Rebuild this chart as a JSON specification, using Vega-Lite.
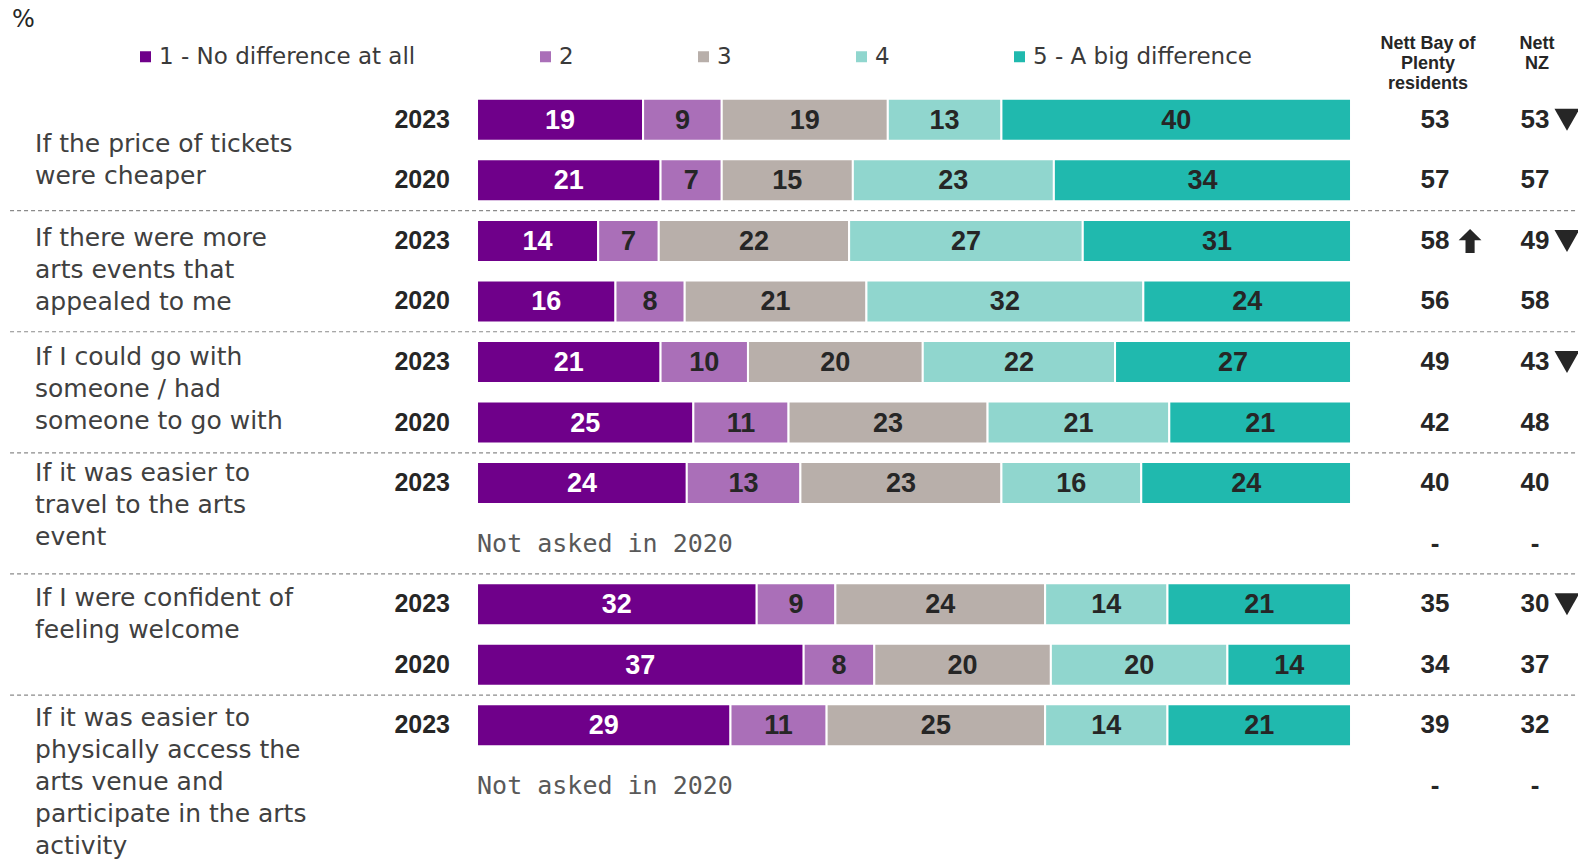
{
  "$schema": "https://vega.github.io/schema/vega-lite/v6.json",
  "width": 1578,
  "height": 859,
  "autosize": {"type": "none"},
  "padding": 0,
  "background": "white",
  "config": {"view": {"stroke": null}, "axis": {"disable": true}},
  "datasets": {
    "levels": [
      {"lvl": 1, "level": "1 - No difference at all"},
      {"lvl": 2, "level": "2"},
      {"lvl": 3, "level": "3"},
      {"lvl": 4, "level": "4"},
      {"lvl": 5, "level": "5 - A big difference"}
    ],
    "bars": [
      {"row": 0, "year": "2023", "lvl": 1, "value": 19}, {"row": 0, "year": "2023", "lvl": 2, "value": 9}, {"row": 0, "year": "2023", "lvl": 3, "value": 19}, {"row": 0, "year": "2023", "lvl": 4, "value": 13}, {"row": 0, "year": "2023", "lvl": 5, "value": 40},
      {"row": 1, "year": "2020", "lvl": 1, "value": 21}, {"row": 1, "year": "2020", "lvl": 2, "value": 7}, {"row": 1, "year": "2020", "lvl": 3, "value": 15}, {"row": 1, "year": "2020", "lvl": 4, "value": 23}, {"row": 1, "year": "2020", "lvl": 5, "value": 34},
      {"row": 2, "year": "2023", "lvl": 1, "value": 14}, {"row": 2, "year": "2023", "lvl": 2, "value": 7}, {"row": 2, "year": "2023", "lvl": 3, "value": 22}, {"row": 2, "year": "2023", "lvl": 4, "value": 27}, {"row": 2, "year": "2023", "lvl": 5, "value": 31},
      {"row": 3, "year": "2020", "lvl": 1, "value": 16}, {"row": 3, "year": "2020", "lvl": 2, "value": 8}, {"row": 3, "year": "2020", "lvl": 3, "value": 21}, {"row": 3, "year": "2020", "lvl": 4, "value": 32}, {"row": 3, "year": "2020", "lvl": 5, "value": 24},
      {"row": 4, "year": "2023", "lvl": 1, "value": 21}, {"row": 4, "year": "2023", "lvl": 2, "value": 10}, {"row": 4, "year": "2023", "lvl": 3, "value": 20}, {"row": 4, "year": "2023", "lvl": 4, "value": 22}, {"row": 4, "year": "2023", "lvl": 5, "value": 27},
      {"row": 5, "year": "2020", "lvl": 1, "value": 25}, {"row": 5, "year": "2020", "lvl": 2, "value": 11}, {"row": 5, "year": "2020", "lvl": 3, "value": 23}, {"row": 5, "year": "2020", "lvl": 4, "value": 21}, {"row": 5, "year": "2020", "lvl": 5, "value": 21},
      {"row": 6, "year": "2023", "lvl": 1, "value": 24}, {"row": 6, "year": "2023", "lvl": 2, "value": 13}, {"row": 6, "year": "2023", "lvl": 3, "value": 23}, {"row": 6, "year": "2023", "lvl": 4, "value": 16}, {"row": 6, "year": "2023", "lvl": 5, "value": 24},
      {"row": 8, "year": "2023", "lvl": 1, "value": 32}, {"row": 8, "year": "2023", "lvl": 2, "value": 9}, {"row": 8, "year": "2023", "lvl": 3, "value": 24}, {"row": 8, "year": "2023", "lvl": 4, "value": 14}, {"row": 8, "year": "2023", "lvl": 5, "value": 21},
      {"row": 9, "year": "2020", "lvl": 1, "value": 37}, {"row": 9, "year": "2020", "lvl": 2, "value": 8}, {"row": 9, "year": "2020", "lvl": 3, "value": 20}, {"row": 9, "year": "2020", "lvl": 4, "value": 20}, {"row": 9, "year": "2020", "lvl": 5, "value": 14},
      {"row": 10, "year": "2023", "lvl": 1, "value": 29}, {"row": 10, "year": "2023", "lvl": 2, "value": 11}, {"row": 10, "year": "2023", "lvl": 3, "value": 25}, {"row": 10, "year": "2023", "lvl": 4, "value": 14}, {"row": 10, "year": "2023", "lvl": 5, "value": 21}
    ],
    "rows": [
      {"row": 0, "year": "2023", "bop": "53", "nz": "53", "bopSig": "", "nzSig": "down", "asked": true},
      {"row": 1, "year": "2020", "bop": "57", "nz": "57", "bopSig": "", "nzSig": "", "asked": true},
      {"row": 2, "year": "2023", "bop": "58", "nz": "49", "bopSig": "up", "nzSig": "down", "asked": true},
      {"row": 3, "year": "2020", "bop": "56", "nz": "58", "bopSig": "", "nzSig": "", "asked": true},
      {"row": 4, "year": "2023", "bop": "49", "nz": "43", "bopSig": "", "nzSig": "down", "asked": true},
      {"row": 5, "year": "2020", "bop": "42", "nz": "48", "bopSig": "", "nzSig": "", "asked": true},
      {"row": 6, "year": "2023", "bop": "40", "nz": "40", "bopSig": "", "nzSig": "", "asked": true},
      {"row": 7, "year": "2020", "bop": "-", "nz": "-", "bopSig": "", "nzSig": "", "asked": false},
      {"row": 8, "year": "2023", "bop": "35", "nz": "30", "bopSig": "", "nzSig": "down", "asked": true},
      {"row": 9, "year": "2020", "bop": "34", "nz": "37", "bopSig": "", "nzSig": "", "asked": true},
      {"row": 10, "year": "2023", "bop": "39", "nz": "32", "bopSig": "", "nzSig": "", "asked": true},
      {"row": 11, "year": "2020", "bop": "-", "nz": "-", "bopSig": "", "nzSig": "", "asked": false}
    ],
    "questions": [
      {"q": 1, "lastRow": 1, "label": "If the price of tickets\nwere cheaper"},
      {"q": 2, "lastRow": 3, "label": "If there were more\narts events that\nappealed to me"},
      {"q": 3, "lastRow": 5, "label": "If I could go with\nsomeone / had\nsomeone to go with"},
      {"q": 4, "lastRow": 7, "label": "If it was easier to\ntravel to the arts\nevent"},
      {"q": 5, "lastRow": 9, "label": "If I were confident of\nfeeling welcome"},
      {"q": 6, "lastRow": 11, "label": "If it was easier to\nphysically access the\narts venue and\nparticipate in the arts\nactivity"}
    ]
  },
  "layer": [
    {
      "data": {"name": "questions"},
      "transform": [{"filter": "datum.q < 6"}],
      "mark": {"type": "rule", "strokeDash": [4, 3], "color": "#8a8a8a", "strokeWidth": 1.2, "yOffset": 30.3},
      "encoding": {
        "y": {"field": "lastRow", "type": "quantitative", "scale": {"domain": [-1.9785, 12.208], "reverse": true, "nice": false, "zero": false, "padding": 0}, "axis": null},
        "x": {"datum": -0.5343, "type": "quantitative", "scale": {"domain": [-0.5458, 1.2597], "nice": false, "zero": false, "padding": 0}, "axis": null},
        "x2": {"datum": 1.2597}
      }
    },
    {
      "data": {"name": "bars"},
      "transform": [{"lookup": "lvl", "from": {"data": {"name": "levels"}, "key": "lvl", "fields": ["level"]}}],
      "mark": {"type": "bar", "orient": "horizontal", "height": 42, "stroke": "white", "strokeWidth": 2},
      "encoding": {
        "y": {"field": "row", "type": "quantitative", "axis": null},
        "x": {"field": "value", "type": "quantitative", "stack": "normalize", "axis": null},
        "order": {"field": "lvl", "type": "quantitative"},
        "color": {
          "field": "level", "type": "nominal",
          "scale": {"domain": ["1 - No difference at all", "2", "3", "4", "5 - A big difference"], "range": ["#6F008A", "#AA6FB8", "#B8AFAA", "#90D6CE", "#20B9AE"]},
          "legend": {"orient": "none", "legendX": 134, "legendY": 45, "direction": "horizontal", "columns": 5, "title": null, "symbolType": "square", "symbolSize": 121, "symbolStrokeWidth": 0, "symbolOpacity": 1, "labelFont": "DejaVu Sans", "labelFontSize": 23, "labelColor": "#3a3a3a", "labelOffset": 2, "columnPadding": 118, "labelLimit": 400, "padding": 0}
        }
      }
    },
    {
      "data": {"name": "bars"},
      "mark": {"type": "text", "font": "Liberation Sans", "fontWeight": "bold", "fontSize": 27, "baseline": "middle", "align": "center", "dy": 1},
      "encoding": {
        "y": {"field": "row", "type": "quantitative"},
        "x": {"field": "value", "type": "quantitative", "stack": "normalize", "bandPosition": 0.5},
        "detail": {"field": "lvl", "type": "nominal"},
        "order": {"field": "lvl", "type": "quantitative"},
        "text": {"field": "value", "type": "quantitative"},
        "color": {"condition": {"test": "datum.lvl === 1", "value": "white"}, "value": "#262626"}
      }
    },
    {
      "data": {"name": "rows"},
      "transform": [{"filter": "datum.asked"}],
      "mark": {"type": "text", "font": "Liberation Sans", "fontWeight": "bold", "fontSize": 25, "align": "right", "baseline": "middle", "color": "#262626"},
      "encoding": {
        "y": {"field": "row", "type": "quantitative"},
        "x": {"datum": -0.0309},
        "text": {"field": "year", "type": "nominal"}
      }
    },
    {
      "data": {"name": "rows"},
      "transform": [{"filter": "!datum.asked"}],
      "mark": {"type": "text", "font": "DejaVu Sans Mono", "fontSize": 25, "align": "left", "baseline": "middle", "color": "#595959", "text": "Not asked in 2020"},
      "encoding": {
        "y": {"field": "row", "type": "quantitative"},
        "x": {"datum": 0}
      }
    },
    {
      "data": {"name": "rows"},
      "mark": {"type": "text", "font": "Liberation Sans", "fontWeight": "bold", "fontSize": 26, "align": "center", "baseline": "middle", "color": "#262626"},
      "encoding": {
        "y": {"field": "row", "type": "quantitative"},
        "x": {"datum": 1.0961},
        "text": {"field": "bop", "type": "nominal"}
      }
    },
    {
      "data": {"name": "rows"},
      "mark": {"type": "text", "font": "Liberation Sans", "fontWeight": "bold", "fontSize": 26, "align": "center", "baseline": "middle", "color": "#262626"},
      "encoding": {
        "y": {"field": "row", "type": "quantitative"},
        "x": {"datum": 1.2105},
        "text": {"field": "nz", "type": "nominal"}
      }
    },
    {
      "data": {"name": "rows"},
      "transform": [{"filter": "datum.bopSig === 'up'"}],
      "mark": {"type": "point", "filled": true, "opacity": 1, "color": "#262626", "size": 576, "shape": "M0,-1 L0.95,-0.05 L0.38,-0.05 L0.38,1 L-0.38,1 L-0.38,-0.05 L-0.95,-0.05 Z"},
      "encoding": {
        "y": {"field": "row", "type": "quantitative"},
        "x": {"datum": 1.1362}
      }
    },
    {
      "data": {"name": "rows"},
      "transform": [{"filter": "datum.nzSig === 'down'"}],
      "mark": {"type": "point", "filled": true, "opacity": 1, "color": "#262626", "size": 625, "shape": "M-1,-0.88 L1,-0.88 L0,0.88 Z"},
      "encoding": {
        "y": {"field": "row", "type": "quantitative"},
        "x": {"datum": 1.2471}
      }
    },
    {
      "data": {"values": [{}]},
      "mark": {"type": "text", "text": ["Nett Bay of", "Plenty", "residents"], "font": "Liberation Sans", "fontWeight": "bold", "fontSize": 18, "lineHeight": 20, "align": "center", "baseline": "middle", "color": "#262626"},
      "encoding": {"x": {"datum": 1.0881}, "y": {"datum": -1.25}}
    },
    {
      "data": {"values": [{}]},
      "mark": {"type": "text", "text": ["Nett", "NZ"], "font": "Liberation Sans", "fontWeight": "bold", "fontSize": 18, "lineHeight": 20, "align": "center", "baseline": "middle", "color": "#262626"},
      "encoding": {"x": {"datum": 1.2128}, "y": {"datum": -1.25}}
    },
    {
      "data": {"values": [{}]},
      "mark": {"type": "text", "text": "%", "font": "DejaVu Sans", "fontSize": 24, "align": "left", "baseline": "middle", "color": "#262626"},
      "encoding": {"x": {"datum": -0.5320}, "y": {"datum": -1.65}}
    },
    {
      "data": {"name": "questions"},
      "transform": [{"filter": "datum.q === 1"}],
      "mark": {"type": "text", "font": "DejaVu Sans", "fontSize": 25, "lineHeight": 32, "lineBreak": "\n", "align": "left", "baseline": "middle", "color": "#404040"},
      "encoding": {"x": {"datum": -0.5057}, "y": {"datum": 0.398}, "text": {"field": "label", "type": "nominal"}}
    },
    {
      "data": {"name": "questions"},
      "transform": [{"filter": "datum.q === 2"}],
      "mark": {"type": "text", "font": "DejaVu Sans", "fontSize": 25, "lineHeight": 32, "lineBreak": "\n", "align": "left", "baseline": "middle", "color": "#404040"},
      "encoding": {"x": {"datum": -0.5057}, "y": {"datum": 1.944}, "text": {"field": "label", "type": "nominal"}}
    },
    {
      "data": {"name": "questions"},
      "transform": [{"filter": "datum.q === 3"}],
      "mark": {"type": "text", "font": "DejaVu Sans", "fontSize": 25, "lineHeight": 32, "lineBreak": "\n", "align": "left", "baseline": "middle", "color": "#404040"},
      "encoding": {"x": {"datum": -0.5057}, "y": {"datum": 3.922}, "text": {"field": "label", "type": "nominal"}}
    },
    {
      "data": {"name": "questions"},
      "transform": [{"filter": "datum.q === 4"}],
      "mark": {"type": "text", "font": "DejaVu Sans", "fontSize": 25, "lineHeight": 32, "lineBreak": "\n", "align": "left", "baseline": "middle", "color": "#404040"},
      "encoding": {"x": {"datum": -0.5057}, "y": {"datum": 5.833}, "text": {"field": "label", "type": "nominal"}}
    },
    {
      "data": {"name": "questions"},
      "transform": [{"filter": "datum.q === 5"}],
      "mark": {"type": "text", "font": "DejaVu Sans", "fontSize": 25, "lineHeight": 32, "lineBreak": "\n", "align": "left", "baseline": "middle", "color": "#404040"},
      "encoding": {"x": {"datum": -0.5057}, "y": {"datum": 7.894}, "text": {"field": "label", "type": "nominal"}}
    },
    {
      "data": {"name": "questions"},
      "transform": [{"filter": "datum.q === 6"}],
      "mark": {"type": "text", "font": "DejaVu Sans", "fontSize": 25, "lineHeight": 32, "lineBreak": "\n", "align": "left", "baseline": "middle", "color": "#404040"},
      "encoding": {"x": {"datum": -0.5057}, "y": {"datum": 9.873}, "text": {"field": "label", "type": "nominal"}}
    }
  ]
}
